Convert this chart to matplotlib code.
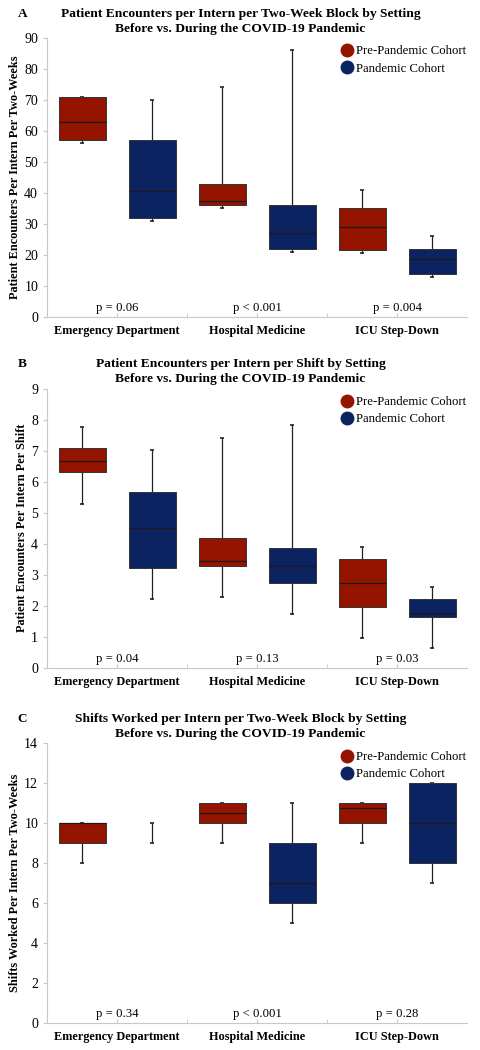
import numpy as np
from matplotlib import pyplot as plt
from matplotlib.lines import Line2D

plt.rcParams['font.family'] = ['Liberation Serif', 'DejaVu Serif']

settings = ["Emergency Department", "Hospital Medicine", "ICU Step-Down"]
cohorts = ["Pre-Pandemic Cohort", "Pandemic Cohort"]
red = '#951400'
blue = '#0b2360'

# Panel A: encounters per two-week block  (low, q1, median, q3, high)
enc_block_pre = [[56, 57, 63, 71, 71], [35, 36, 37.5, 43, 74], [20.5, 21.5, 29, 35, 41]]
enc_block_pan = [[31, 32, 40.5, 57, 70], [21, 22, 27, 36, 86], [13, 14, 18.7, 22, 26]]
p_block = ["p = 0.06", "p < 0.001", "p = 0.004"]

# Panel B: encounters per shift
enc_shift_pre = [[5.29, 6.3, 6.66, 7.08, 7.77], [2.27, 3.27, 3.45, 4.17, 7.4], [0.96, 1.96, 2.72, 3.49, 3.9]]
enc_shift_pan = [[2.21, 3.2, 4.51, 5.68, 7.01], [1.74, 2.73, 3.27, 3.85, 7.81], [0.64, 1.64, 1.78, 2.21, 2.6]]
p_shift = ["p = 0.04", "p = 0.13", "p = 0.03"]

# Panel C: shifts worked per two-week block
shifts_pre = [[8, 9, 10, 10, 10], [9, 10, 10.5, 11, 11], [9, 10, 10.75, 11, 11]]
shifts_pan = [[9, 10, 10, 10, 10], [5, 6, 7, 9, 11], [7, 8, 10, 12, 12]]
p_shifts = ["p = 0.34", "p < 0.001", "p = 0.28"]

panels = [
    ("A", "Patient Encounters per Intern per Two-Week Block by Setting\nBefore vs. During the COVID-19 Pandemic",
     "Patient Encounters Per Intern Per Two-Weeks", enc_block_pre, enc_block_pan, p_block, 90, 10),
    ("B", "Patient Encounters per Intern per Shift by Setting\nBefore vs. During the COVID-19 Pandemic",
     "Patient Encounters Per Intern Per Shift", enc_shift_pre, enc_shift_pan, p_shift, 9, 1),
    ("C", "Shifts Worked per Intern per Two-Week Block by Setting\nBefore vs. During the COVID-19 Pandemic",
     "Shifts Worked Per Intern Per Two-Weeks", shifts_pre, shifts_pan, p_shifts, 14, 2),
]

fig = plt.figure(figsize=(4.81, 10.5), dpi=100)
bottoms = [0.698, 0.364, 0.026]
title_y = [0.9925, 0.6592, 0.3211]

w = 0.335
for k, (letter, title, ylabel, pre, pan, pvals, ymax, ystep) in enumerate(panels):
    ax = fig.add_axes([0.098, bottoms[k], 0.873, 0.266])
    for i in range(3):
        for stats, off, col in [(pre[i], -0.25, red), (pan[i], 0.25, blue)]:
            lo, q1, med, q3, hi = stats
            x = i + off
            ax.vlines(x, lo, hi, color='#222222', lw=0.9, zorder=1)
            ax.hlines([lo, hi], x - 0.012, x + 0.012, color='#222222', lw=1.2, zorder=1)
            if q3 > q1:
                ax.bar(x, q3 - q1, bottom=q1, width=w, color=col, edgecolor='#333333', lw=0.7, zorder=2)
                ax.hlines(med, x - w / 2, x + w / 2, color='#1a1a1a', lw=0.9, zorder=3)
        ax.text(i, ymax * 0.01, pvals[i], ha='center', va='bottom', fontsize=9.2)

    ax.set_xlim(-0.5, 2.5)
    ax.set_ylim(0, ymax)
    ax.set_yticks(np.arange(0, ymax + ystep / 2, ystep))
    ax.set_xticks(range(3))
    ax.set_xticklabels(settings, fontweight='bold', fontsize=8.8)
    ax.set_xticks([0.5, 1.5], minor=True)
    ax.tick_params(axis='x', which='both', direction='in', length=3, color='#c8c8c8', pad=6)
    ax.tick_params(axis='y', length=3, color='#c8c8c8', labelsize=10)
    for s in ['top', 'right']:
        ax.spines[s].set_visible(False)
    for s in ['left', 'bottom']:
        ax.spines[s].set_color('#c8c8c8')
    ax.set_ylabel(ylabel, fontweight='bold', fontsize=8.8, labelpad=2)

    handles = [Line2D([], [], marker='o', ls='', ms=9, color=red),
               Line2D([], [], marker='o', ls='', ms=9, color=blue)]
    ax.legend(handles, cohorts, loc='upper right', bbox_to_anchor=(1.015, 1.0), frameon=False,
              fontsize=9.2, handletextpad=0.2, labelspacing=0.4, borderaxespad=0.2, handlelength=1.0)

    fig.text(0.5, title_y[k], title, ha='center', va='top', fontweight='bold', fontsize=9.7, linespacing=1.32)
    fig.text(0.037, title_y[k], letter, ha='left', va='top', fontweight='bold', fontsize=9.5)

fig.savefig("out.png", dpi=100)
